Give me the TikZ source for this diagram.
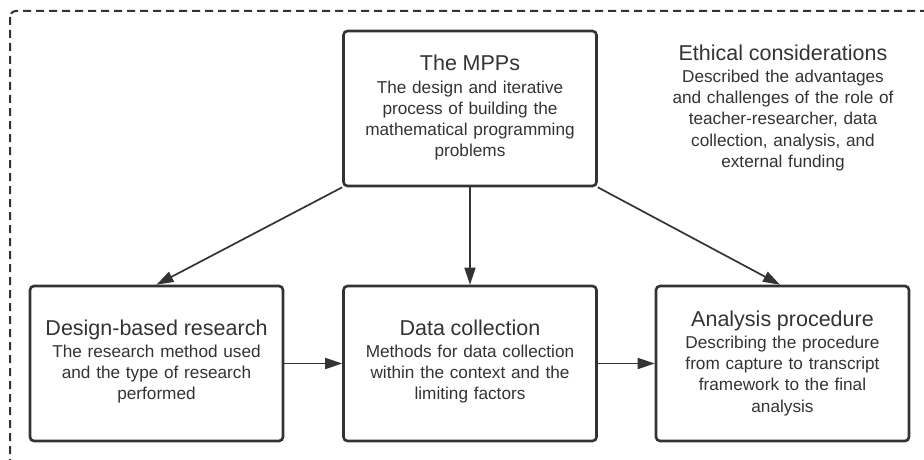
\documentclass[tikz,border=0pt]{standalone}
\usepackage{fontspec}
\setmainfont{Liberation Sans}
\usetikzlibrary{arrows.meta}
\definecolor{ink}{HTML}{333333}
\newcommand{\boxtitle}[1]{{\fontsize{21.5}{21.1}\selectfont\rule{0pt}{16pt}#1}\\[1.4pt]}
\begin{document}
\begin{tikzpicture}[x=1pt,y=1pt,
 box/.style={draw=ink, line width=2.6pt, rounded corners=4pt, minimum width=253pt, minimum height=155pt, inner sep=0pt},
 txt/.style={anchor=north, inner sep=0pt, text width=260pt, align=center, text=ink, font=\fontsize{17.2}{21.1}\selectfont},
 conn/.style={draw=ink, line width=1.7pt, -{Triangle[length=17pt,width=11pt]}},
 frame/.style={draw=ink, line width=2pt, dash pattern=on 8pt off 5pt, rounded corners=6pt}
]
\useasboundingbox (0,0) rectangle (924,459);
\clip (0,0) rectangle (924,459);
\draw[frame] (10,448) rectangle (960,-30);

\node[box] (mpp) at (470,350.5) {};
\node[box] (design) at (156.5,95.5) {};
\node[box] (data) at (470,95.5) {};
\node[box] (analysis) at (782.5,95.5) {};

\node[txt] (mppt) at (470,404.3) {\boxtitle{The MPPs}The design and iterative\\process of building the\\mathematical programming\\problems};
\node[txt] (etht) at (783,415) {\boxtitle{Ethical considerations}Described the advantages\\and challenges of the role of\\teacher-researcher, data\\collection, analysis, and\\external funding};
\node[txt] (designt) at (156.5,140) {\boxtitle{Design-based research}The research method used\\and the type of research\\performed};
\node[txt] (datat) at (470,140) {\boxtitle{Data collection}Methods for data collection\\within the context and the\\limiting factors};
\node[txt] (analysist) at (782.5,149) {\boxtitle{Analysis procedure}Describing the procedure\\from capture to transcript\\framework to the final\\analysis};

\draw[conn] (mpp.south west) -- (design.north);
\draw[conn] (mpp.south) -- (data.north);
\draw[conn] (mpp.south east) -- ([xshift=-2.5pt]analysis.north);
\draw[conn] (design.east) -- (data.west);
\draw[conn] (data.east) -- (analysis.west);
\end{tikzpicture}
\end{document}
